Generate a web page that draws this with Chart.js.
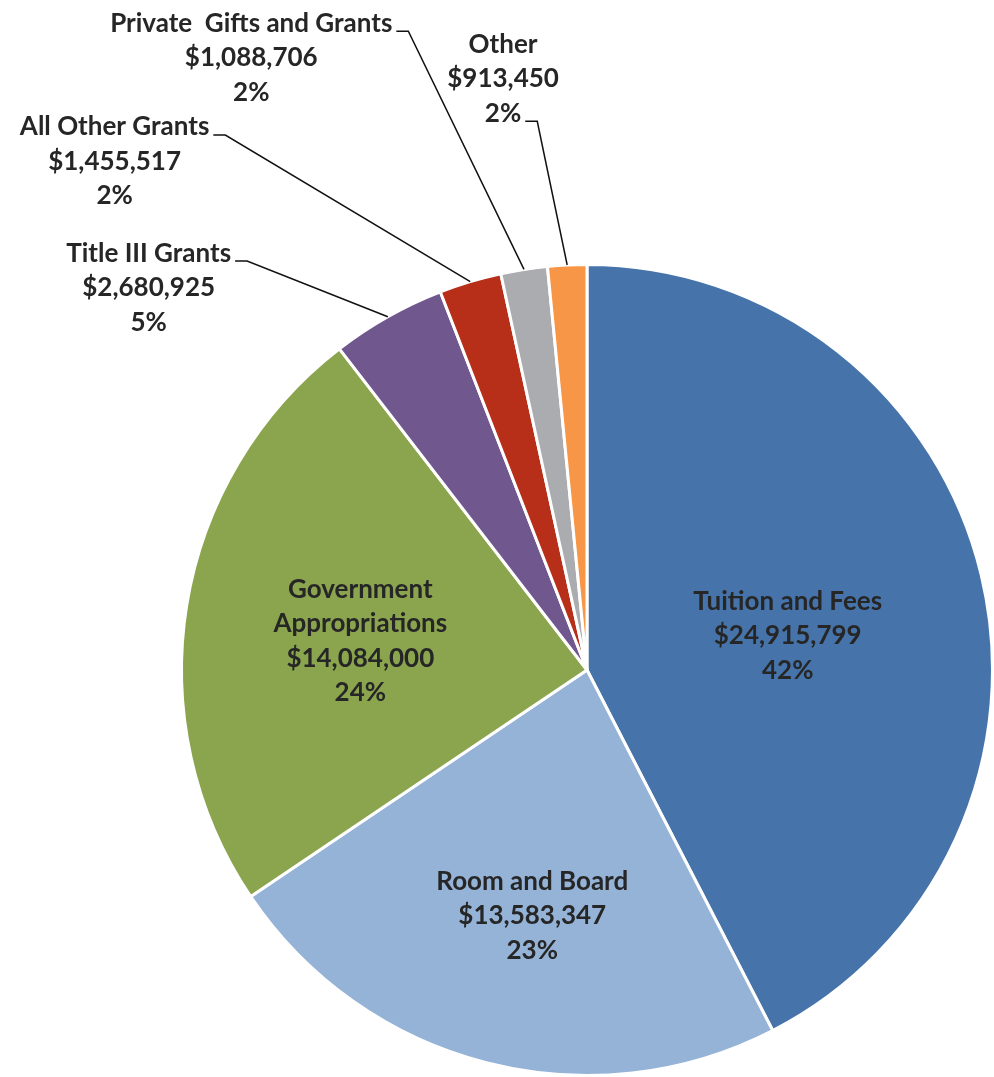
<!DOCTYPE html>
<html>
<head>
<meta charset="utf-8">
<script src="https://cdn.jsdelivr.net/npm/chart.js"></script>
<style>
  html, body { margin: 0; padding: 0; background: #fff; }
  #wrap { width: 994px; height: 1077px; }
</style>
</head>
<body>
<div id="wrap"><canvas id="revenuePie" width="994" height="1077"></canvas></div>
<script>
// revenue sources, clockwise from 12 o'clock
const categories = [
  ['Tuition and Fees'],
  ['Room and Board'],
  ['Government', 'Appropriations'],
  ['Title III Grants'],
  ['All Other Grants'],
  ['Private  Gifts and Grants'],
  ['Other']
];
const amounts = [24915799, 13583347, 14084000, 2680925, 1455517, 1088706, 913450];
const sliceColors = ['#4674aa', '#95b3d7', '#8ba54f', '#70588f', '#b72e19', '#abacb0', '#f79646'];

// where each label block sits, as a fraction of the radius from the pie centre
// outside: true -> drawn with a leader line back to the slice
const labelLayout = [
  { dx: 0.495, dy: -0.084 },
  { dx: -0.135, dy: 0.606 },
  { dx: -0.559, dy: -0.071 },
  { dx: -1.081, dy: -0.943, outside: true, hookLine: 0 },
  { dx: -1.165, dy: -1.254, outside: true, hookLine: 0 },
  { dx: -0.828, dy: -1.510, outside: true, hookLine: 0 },
  { dx: -0.207, dy: -1.458, outside: true, hookLine: 2 }
];

const total = amounts.reduce((a, b) => a + b, 0);
const FONT = 'bold 26px Lato, "Open Sans", sans-serif';
const LINE_H = 34.5;

const pieLabels = {
  id: 'pieLabels',
  afterDatasetsDraw(chart) {
    const ctx = chart.ctx;
    const arcs = chart.getDatasetMeta(0).data;
    ctx.save();
    ctx.font = FONT;
    ctx.fillStyle = '#262626';
    ctx.textAlign = 'center';
    ctx.textBaseline = 'middle';
    arcs.forEach((arc, i) => {
      const { x, y, startAngle, endAngle, outerRadius } = arc.getProps(['x', 'y', 'startAngle', 'endAngle', 'outerRadius'], true);
      const lay = labelLayout[i];
      const lines = categories[i].concat([
        '$' + amounts[i].toLocaleString('en-US'),
        Math.round(amounts[i] / total * 100) + '%'
      ]);
      const cx = x + lay.dx * outerRadius;
      const cy = y + lay.dy * outerRadius;
      const top = cy - (lines.length - 1) * LINE_H / 2;
      lines.forEach((t, k) => ctx.fillText(t, cx, top + k * LINE_H));

      if (lay.outside) {
        const mid = (startAngle + endAngle) / 2;
        const ex = x + Math.cos(mid) * outerRadius;
        const ey = y + Math.sin(mid) * outerRadius;
        const hookText = lines[lay.hookLine];
        const w = ctx.measureText(hookText).width;
        const sx = cx + w / 2 + 4;
        const sy = top + lay.hookLine * LINE_H + 8;
        ctx.beginPath();
        ctx.strokeStyle = '#111';
        ctx.lineWidth = 1.5;
        ctx.moveTo(sx, sy);
        ctx.lineTo(sx + 12, sy);
        ctx.lineTo(ex, ey);
        ctx.stroke();
      }
    });
    ctx.restore();
  }
};

new Chart(document.getElementById('revenuePie'), {
  type: 'pie',
  data: {
    labels: categories.map(c => c.join(' ')),
    datasets: [{
      data: amounts,
      backgroundColor: sliceColors,
      borderColor: '#ffffff',
      borderWidth: 3
    }]
  },
  options: {
    responsive: false,
    animation: false,
    layout: { padding: { left: 180, right: 0, top: 263, bottom: 0 } },
    plugins: {
      legend: { display: false },
      tooltip: { enabled: false }
    }
  },
  plugins: [pieLabels]
});
</script>
</body>
</html>
